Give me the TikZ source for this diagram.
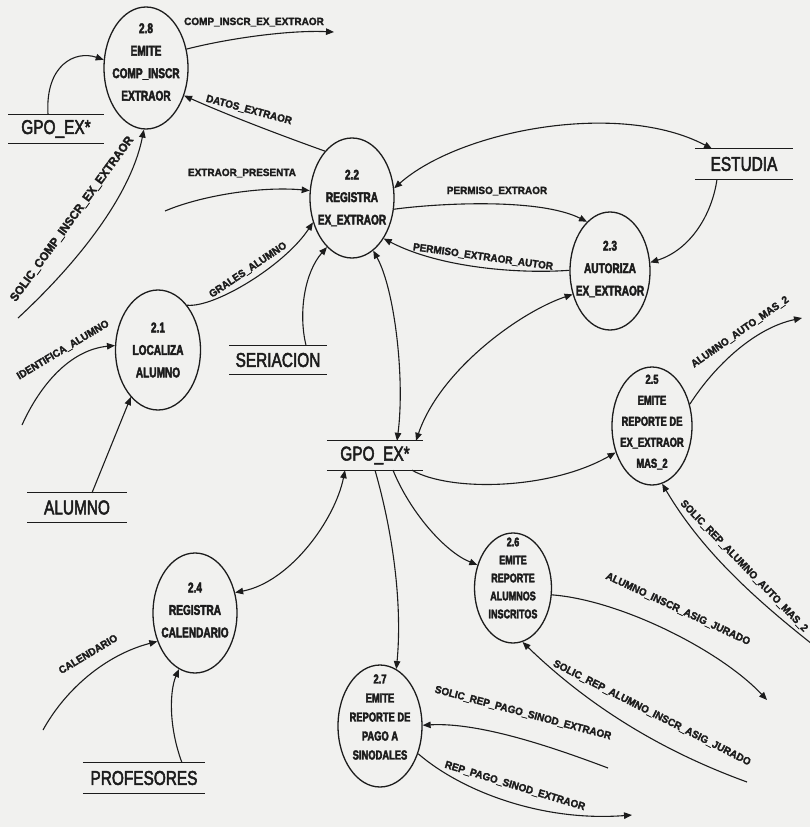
\documentclass[tikz,border=0pt]{standalone}
\usepackage{fontspec}
\setmainfont{Liberation Sans}
\newfontfamily\circfont{Liberation Sans}[FakeStretch=0.72, FakeBold=3]
\newfontfamily\flowfont{Liberation Sans}[FakeStretch=0.95, FakeBold=2]
\newfontfamily\storefont{Liberation Sans}[FakeStretch=0.77, FakeBold=2.5]
\usetikzlibrary{shapes.geometric,arrows.meta,calc}
\definecolor{ink}{RGB}{28,28,28}
\definecolor{paper}{RGB}{241,241,239}
\begin{document}
\begin{tikzpicture}[x=1pt,y=1pt,
  proc/.style={ellipse, draw=ink, line width=1.3pt, inner sep=0pt,
    minimum width=84pt, minimum height=120pt},
  ptext/.style={align=center, text=ink, inner sep=0pt,
    font=\circfont\bfseries\fontsize{14}{22.5}\selectfont},
  ptextsm/.style={ptext, font=\circfont\bfseries\fontsize{13}{19}\selectfont},
  store/.style={inner sep=0pt, minimum height=29pt, text=ink,
    font=\storefont\fontsize{20}{22}\selectfont},
  storeline/.style={draw=ink, line width=1.1pt},
  flow/.style={draw=ink, line width=1.1pt, -{Triangle[length=8pt,width=6.5pt]}},
  bothflow/.style={flow, {Triangle[length=8pt,width=6.5pt]}-{Triangle[length=8pt,width=6.5pt]}},
  lbl/.style={text=ink, inner sep=1pt,
    font=\flowfont\bfseries\fontsize{10.5}{12}\selectfont}
]
% paper and page frame
\fill[paper] (0,0) rectangle (810,-827);
\useasboundingbox (0,0) rectangle (810,-827);
\clip (0,0) rectangle (810,-827);

% processes
\node[proc, minimum height=122pt,
  label={[ptext, yshift=6pt]center:2.8\\EMITE\\COMP\_INSCR\\EXTRAOR}] (p28) at (146,-68) {};
\node[proc, label={[ptext]center:2.2\\REGISTRA\\EX\_EXTRAOR}] (p22) at (352,-198) {};
\node[proc, minimum width=80pt, minimum height=118pt,
  label={[ptext, yshift=2pt]center:2.3\\AUTORIZA\\EX\_EXTRAOR}] (p23) at (610,-271) {};
\node[proc, minimum width=85pt, label={[ptext]center:2.1\\LOCALIZA\\ALUMNO}] (p21) at (158,-350) {};
\node[proc, minimum width=80pt, minimum height=118pt,
  label={[ptextsm, font=\circfont\bfseries\fontsize{13}{21}\selectfont, yshift=4pt]center:2.5\\EMITE\\REPORTE DE\\EX\_EXTRAOR\\MAS\_2}] (p25) at (652,-426) {};
\node[proc, minimum width=77pt, minimum height=110pt,
  label={[ptextsm, font=\circfont\bfseries\fontsize{12.5}{18}\selectfont, yshift=10pt]center:2.6\\EMITE\\REPORTE\\ALUMNOS\\INSCRITOS}] (p26) at (513,-588) {};
\node[proc, label={[ptext, yshift=3pt]center:2.4\\REGISTRA\\CALENDARIO}] (p24) at (195,-613) {};
\node[proc, minimum height=122pt,
  label={[ptextsm, yshift=9pt]center:2.7\\EMITE\\REPORTE DE\\PAGO A\\SINODALES}] (p27) at (380,-726) {};

% data stores
\node[store, minimum width=95pt] (gpoA) at (56,-129) {GPO\_EX*};
\node[store, minimum width=98pt, minimum height=30pt] (estudia) at (744,-164) {ESTUDIA};
\node[store, minimum width=97pt] (seriacion) at (278,-360) {SERIACION};
\node[store, minimum width=96pt] (gpoB) at (375,-455.5) {GPO\_EX*};
\node[store, minimum width=99pt] (alumno) at (77,-507.5) {ALUMNO};
\node[store, minimum width=122pt, minimum height=30pt] (profesores) at (144,-778) {PROFESORES};
\foreach \s in {gpoA,estudia,seriacion,gpoB,alumno,profesores}
  \draw[storeline] (\s.north west) -- (\s.north east) (\s.south west) -- (\s.south east);

% free ends of the flows
\coordinate (oComp) at (334,-32);
\coordinate (iSolComp) at (18,-318);
\coordinate (iPresenta) at (165,-211);
\coordinate (oAuto) at (802,-318);
\coordinate (iSolAuto) at (812,-644);
\coordinate (iIdent) at (22,-425);
\coordinate (oInscr) at (767,-700);
\coordinate (iSolInscr) at (747,-782);
\coordinate (iSolPago) at (608,-768);
\coordinate (oPago) at (632,-815);
\coordinate (iCal) at (43,-730);

% flows
\draw[flow] ([xshift=-8pt]gpoA.north) .. controls (45,-65) and (75,-50) .. (p28.169);
\draw[flow] (p28.25) .. controls (230,-38) and (290,-30) .. (oComp);
\draw[flow] (p22.120) .. controls (280,-135) and (230,-116) .. (p28.-36);
\draw[flow] (iSolComp) .. controls (70,-270) and (130,-200) .. (p28.-92);
\draw[flow] (iPresenta) .. controls (200,-196) and (260,-186) .. (p22.170);
\draw[flow] (p21.57) .. controls (215,-308) and (285,-265) .. (p22.212);
\draw[flow] ([xshift=28pt]seriacion.north) .. controls (298,-312) and (305,-272) .. (p22.243);
\draw[bothflow] (p22.13) .. controls (460,-130) and (620,-100) .. ([xshift=-32pt]estudia.north);
\draw[flow] (p22.-15) .. controls (440,-203) and (540,-198) .. (p23.115);
\draw[flow] (p23.179) .. controls (520,-274) and (440,-268) .. (p22.-52);
\draw[flow] ([xshift=-27pt]estudia.south) .. controls (712,-215) and (690,-250) .. (p23.12);
\draw[bothflow] (p22.-68) .. controls (395,-290) and (405,-380) .. ([xshift=22pt]gpoB.north);
\draw[bothflow] (p23.212) .. controls (520,-312) and (440,-370) .. ([xshift=41pt]gpoB.north);
\draw[flow] ([xshift=37pt]gpoB.south) .. controls (450,-492) and (550,-490) .. (p25.216);
\draw[flow] (p25.30) .. controls (715,-365) and (755,-328) .. (oAuto);
\draw[flow] (iSolAuto) .. controls (750,-595) and (700,-548) .. (p25.-80);
\draw[flow] ([xshift=15pt]alumno.north) -- (p21.240);
\draw[flow] (iIdent) .. controls (40,-385) and (70,-350) .. (p21.174);
\draw[bothflow] ([xshift=-30pt]gpoB.south) .. controls (335,-520) and (290,-582) .. (p24.27);
\draw[flow] (gpoB.south) .. controls (395,-540) and (402,-610) .. (p27.74);
\draw[flow] ([xshift=18pt]gpoB.south) .. controls (410,-512) and (445,-552) .. (p26.147);
\draw[flow] (p26.-10) .. controls (620,-600) and (720,-650) .. (oInscr);
\draw[flow] (iSolInscr) .. controls (670,-754) and (595,-712) .. (p26.-80);
\draw[flow] (iSolPago) .. controls (555,-748) and (480,-722) .. (p27.1);
\draw[flow] (p27.-36) .. controls (460,-790) and (540,-822) .. (oPago);
\draw[flow] (iCal) .. controls (65,-690) and (105,-655) .. (p24.217);
\draw[flow] ([xshift=38pt]profesores.north) .. controls (168,-725) and (170,-690) .. (p24.254);

% flow names
\node[lbl] (lComp) at (254,-22) {COMP\_INSCR\_EX\_EXTRAOR};
\node[lbl, rotate=-15] (lDatos) at (249,-110) {DATOS\_EXTRAOR};
\node[lbl] (lPresenta) at (242,-173) {EXTRAOR\_PRESENTA};
\node[lbl, rotate=54, font=\flowfont\bfseries\fontsize{12}{14}\selectfont] (lSolComp) at (72,-219) {SOLIC\_COMP\_INSCR\_EX\_EXTRAOR};
\node[lbl, rotate=34] (lGrales) at (248,-270) {GRALES\_ALUMNO};
\node[lbl, rotate=31] (lIdent) at (63,-350) {IDENTIFICA\_ALUMNO};
\node[lbl] (lPermiso) at (497,-191) {PERMISO\_EXTRAOR};
\node[lbl, rotate=-8] (lAutor) at (483,-257) {PERMISO\_EXTRAOR\_AUTOR};
\node[lbl, rotate=35] (lAuto) at (740,-332) {ALUMNO\_AUTO\_MAS\_2};
\node[lbl, rotate=-46] (lSolAuto) at (744,-566) {SOLIC\_REP\_ALUMNO\_AUTO\_MAS\_2};
\node[lbl, rotate=-25] (lInscr) at (678,-609) {ALUMNO\_INSCR\_ASIG\_JURADO};
\node[lbl, rotate=-27] (lSolInscr) at (652,-713) {SOLIC\_REP\_ALUMNO\_INSCR\_ASIG\_JURADO};
\node[lbl, rotate=-15] (lSolPago) at (523,-713) {SOLIC\_REP\_PAGO\_SINOD\_EXTRAOR};
\node[lbl, rotate=-17] (lPago) at (515,-786) {REP\_PAGO\_SINOD\_EXTRAOR};
\node[lbl, rotate=31] (lCal) at (88,-654) {CALENDARIO};
\end{tikzpicture}
\end{document}
